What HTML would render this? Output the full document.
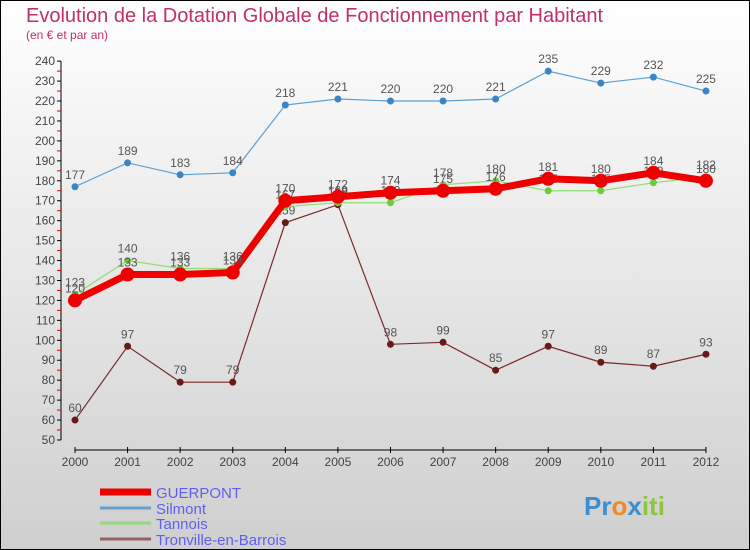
<!DOCTYPE html>
<html><head><meta charset="utf-8"><style>
body{margin:0}
svg{display:block;font-family:"Liberation Sans",sans-serif}
</style></head><body>
<svg width="750" height="550" viewBox="0 0 750 550">
<defs><linearGradient id="bg" x1="0" y1="0" x2="0" y2="1"><stop offset="0" stop-color="#ffffff"/><stop offset="1" stop-color="#cfcfcf"/></linearGradient></defs>
<rect x="0.5" y="0.5" width="749" height="549" fill="url(#bg)" stroke="#000"/>
<text x="26" y="22" font-size="20" fill="#c0306a">Evolution de la Dotation Globale de Fonctionnement par Habitant</text>
<text x="26" y="39" font-size="12" fill="#c0306a">(en € et par an)</text>
<g id="axes"></g>
<g id="series"></g>
<g id="legend"></g>
<text x="584" y="515" font-size="26" font-weight="bold"><tspan fill="#3a8fd0">Pr</tspan><tspan fill="#f08a20">o</tspan><tspan fill="#3a8fd0">x</tspan><tspan fill="#8cc63e">iti</tspan></text>
</svg>
<script>
const years=[2000,2001,2002,2003,2004,2005,2006,2007,2008,2009,2010,2011,2012];
const guerpont=[120,133,133,134,170,172,174,175,176,181,180,184,180];
const silmont=[177,189,183,184,218,221,220,220,221,235,229,232,225];
const tannois=[123,140,136,136,167,169,169,178,180,175,175,179,182];
const tronville=[60,97,79,79,159,168,98,99,85,97,89,87,93];
const yTicks=[50,60,70,80,90,100,110,120,130,140,150,160,170,180,190,200,210,220,230,240];
const NS="http://www.w3.org/2000/svg";
function X(i){return 75+i*52.58;}
function Y(v){return 440-(v-50)*1.994;}
function mk(tag,attrs,parent,text){const e=document.createElementNS(NS,tag);for(const k in attrs)e.setAttribute(k,attrs[k]);if(text!==undefined)e.textContent=text;parent.appendChild(e);return e;}
const ax=document.getElementById('axes');
let yl=mk('line',{x1:61,y1:Y(240),x2:61,y2:Y(50),stroke:'#000'},ax);


yTicks.forEach(v=>{
 mk('line',{x1:57,y1:Y(v),x2:61,y2:Y(v),stroke:'#000'},ax);
 if(v<240)mk('line',{x1:57,y1:Y(v+5),x2:61,y2:Y(v+5),stroke:'#e00000'},ax);
 let t=mk('text',{x:55,y:Y(v)+4,'font-size':12,fill:'#444','text-anchor':'end'},ax,v);
 
 
});
let xl=mk('line',{x1:X(0),y1:450,x2:X(12),y2:450,stroke:'#000'},ax);


years.forEach((y,i)=>{
 mk('line',{x1:X(i),y1:447,x2:X(i),y2:453,stroke:'#000'},ax);
 let t=mk('text',{x:X(i),y:466,'font-size':12,fill:'#444','text-anchor':'middle'},ax,y);
 
 
});
const sg=document.getElementById('series');
function series(name,data,color,dot,w,r){
 const g=mk('g',{},sg);
 
 
 let l=mk('polyline',{points:data.map((v,i)=>X(i)+','+Y(v)).join(' '),fill:'none',stroke:color,'stroke-width':w},g);
 
 
 data.forEach((v,i)=>{
  let c=mk('circle',{cx:X(i),cy:Y(v),r:r,fill:dot},g);
  
  
  let t=mk('text',{x:X(i),y:Y(v)-8,'font-size':12,fill:'#555','text-anchor':'middle'},g,v);
  
  
 });
}
series('silmont',silmont,'#5b9fd4','#3a85c8',1.2,3.5);
series('tronville',tronville,'#7a2a2a','#6a1818',1.2,3.5);
series('tannois',tannois,'#90e070','#6ccc3c',1.2,3.5);
series('guerpont',guerpont,'#ee0000','#ee0000',7,7);
const lg=document.getElementById('legend');
[['GUERPONT','#ee0000',7,492],['Silmont','#6aa0cc',3,508],['Tannois','#98d880',3,523],['Tronville-en-Barrois','#996060',3,539]].forEach(d=>{
 const g=mk('g',{},lg);
 
 
 mk('line',{x1:100,y1:d[3],x2:151,y2:d[3],stroke:d[1],'stroke-width':d[2]},g);
 mk('text',{x:156,y:d[3]+6,'font-size':15,fill:'#6060f0'},g,d[0]);
});
</script>
</body></html>
